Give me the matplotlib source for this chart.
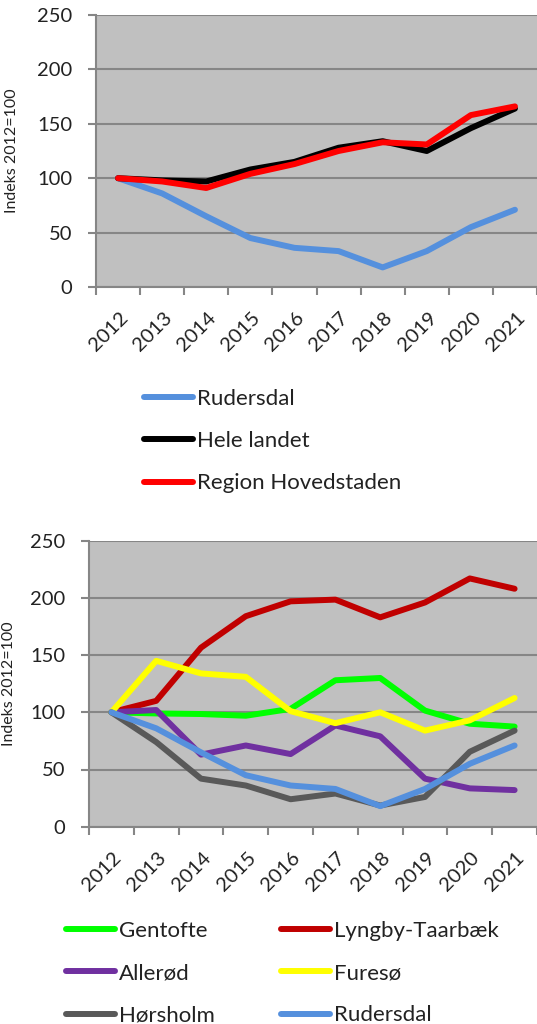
import numpy as np
import matplotlib
matplotlib.use("Agg")
from matplotlib import pyplot as plt
from matplotlib.transforms import ScaledTranslation

plt.rcParams['font.family'] = ['Lato', 'DejaVu Sans']

years = ['2012', '2013', '2014', '2015', '2016', '2017', '2018', '2019', '2020', '2021']

# top chart
rudersdal = [100, 86, 65, 45, 36, 33, 18, 33, 55, 71]
hele_landet = [100, 98, 97, 108, 115, 128, 134, 125, 146, 164]
region_hovedstaden = [100, 97, 91, 104, 113, 125, 133, 131, 158, 166]

# bottom chart
gentofte = [100, 99, 98.5, 97, 103, 128, 130, 101.5, 90, 87.5]
lyngby = [100, 110, 156.5, 184, 197, 198.5, 183, 196, 217, 208]
alleroed = [100, 102, 63, 71, 63.5, 88.5, 79, 42, 33.5, 32]
furesoe = [100, 145, 134, 131, 101, 90.5, 100, 84, 93, 112.5]
hoersholm = [100, 74, 42, 36, 24, 29, 18.5, 26, 65.5, 84]

bg = '#c0c0c0'
gridc = '#868686'
lw = 4.3

fig = plt.figure(figsize=(5.37, 10.24), dpi=100)


def style_axes(ax, ylab_x):
    ax.set_facecolor(bg)
    ax.set_ylim(0, 250)
    ax.set_yticks([0, 50, 100, 150, 200, 250])
    ax.set_xlim(-0.5, 9.43)
    ax.grid(axis='y', color=gridc, linewidth=1.5)
    ax.set_axisbelow(True)
    for s in ['top', 'right']:
        ax.spines[s].set_visible(False)
    for s in ['left', 'bottom']:
        ax.spines[s].set_color(gridc)
        ax.spines[s].set_linewidth(1.5)
    ax.tick_params(axis='y', length=6, width=1.5, color=gridc, pad=11,
                   labelsize=14.5, labelcolor='#222222')
    x = np.arange(len(years))
    ax.set_xticks(x)
    ax.set_xticklabels(years, rotation=45, ha='right', va='center',
                       rotation_mode='anchor', fontsize=14.5, color='#222222')
    ax.tick_params(axis='x', which='major', length=0, pad=0)
    ax.set_xticks(np.arange(-0.5, 9.6, 1.0), minor=True)
    ax.tick_params(axis='x', which='minor', length=6, width=1.5, color=gridc)
    off = ScaledTranslation(0.07, -0.28, fig.dpi_scale_trans)
    for lab in ax.get_xticklabels():
        lab.set_transform(lab.get_transform() + off)
    ax.set_ylabel('Indeks 2012=100', fontsize=11.5, color='#222222')
    ax.yaxis.set_label_coords(ylab_x, 0.5)


x = np.arange(len(years))
kw = dict(linewidth=lw, solid_capstyle='round', solid_joinstyle='round')
leg_kw = dict(loc='upper left', frameon=False, fontsize=16, handlelength=2.2,
              handletextpad=0.18, labelspacing=1.0, borderpad=0,
              borderaxespad=0, labelcolor='#222222')

ax1 = fig.add_axes([96 / 537, 1 - 287 / 1024, 441 / 537, 272 / 1024])
style_axes(ax1, -0.175)
h1, = ax1.plot(x, rudersdal, color='#5590dd', label='Rudersdal', **kw)
h2, = ax1.plot(x, hele_landet, color='black', label='Hele landet', **kw)
h3, = ax1.plot(x, region_hovedstaden, color='red', label='Region Hovedstaden', **kw)
fig.legend(handles=[h1, h2, h3], bbox_to_anchor=(144 / 537, 1 - 389 / 1024),
           **leg_kw)

ax2 = fig.add_axes([89 / 537, 1 - 826.7 / 1024, 448 / 537, 286 / 1024])
style_axes(ax2, -0.163)
g1, = ax2.plot(x, gentofte, color='#00ff00', label='Gentofte', **kw)
g2, = ax2.plot(x, lyngby, color='#c00000', label='Lyngby-Taarbæk', **kw)
g3, = ax2.plot(x, alleroed, color='#7030a0', label='Allerød', **kw)
g4, = ax2.plot(x, furesoe, color='#ffff00', label='Furesø', **kw)
g5, = ax2.plot(x, hoersholm, color='#595959', label='Hørsholm', **kw)
g6, = ax2.plot(x, rudersdal, color='#5590dd', label='Rudersdal', **kw)
fig.legend(handles=[g1, g3, g5, g2, g4, g6], ncol=2, columnspacing=3.0,
           bbox_to_anchor=(66 / 537, 1 - 921 / 1024), **leg_kw)

fig.savefig('out.png', dpi=100)
